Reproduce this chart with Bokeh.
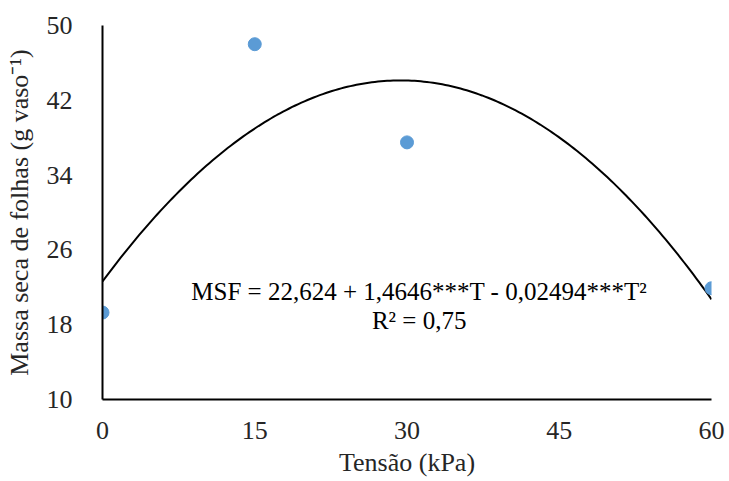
import numpy as np
from bokeh.plotting import figure
from bokeh.models import Range1d, FixedTicker, Label
from bokeh.embed import file_html
from bokeh.resources import INLINE

# Data
tensao = [0, 15, 30, 60]
msf = [19.3, 48.0, 37.5, 21.9]
coef = [22.624, 1.4646, -0.02494]  # regression: MSF = b0 + b1*T + b2*T^2
x_ticks = [0, 15, 30, 45, 60]
y_ticks = [10, 18, 26, 34, 42, 50]

FONT = "Liberation Serif"

p = figure(width=725, height=481, output_backend="svg", toolbar_location=None,
           x_range=Range1d(0, 60), y_range=Range1d(10, 50),
           min_border_left=102, min_border_right=14, min_border_top=25, min_border_bottom=82)
p.outline_line_color = None
p.grid.grid_line_color = None
p.background_fill_color = "white"
p.border_fill_color = "white"

for ax in (p.xaxis[0], p.yaxis[0]):
    ax.major_tick_line_color = None
    ax.minor_tick_line_color = None
    ax.axis_line_color = "black"
    ax.axis_line_width = 2
    ax.major_label_text_font = FONT
    ax.major_label_text_font_size = "26px"
    ax.major_label_text_color = "#262626"
    ax.axis_label_text_font = FONT
    ax.axis_label_text_font_size = "26px"
    ax.axis_label_text_font_style = "normal"
    ax.axis_label_text_color = "#262626"

p.xaxis.ticker = FixedTicker(ticks=x_ticks)
p.yaxis.ticker = FixedTicker(ticks=y_ticks)
p.xaxis.major_label_standoff = 16
p.yaxis.major_label_standoff = 24
p.xaxis.axis_label = "Tensão (kPa)"
p.yaxis.axis_label = "Massa seca de folhas (g vaso⁻¹)"
p.xaxis.axis_label_standoff = 6
p.yaxis.axis_label_standoff = 10

t = np.linspace(0, 60, 200)
curve = coef[0] + coef[1] * t + coef[2] * t ** 2
p.line(t, curve, line_color="black", line_width=2)

p.scatter(tensao, msf, size=13, fill_color="#5B9BD5", line_color="#5B9BD5")

p.add_layout(Label(x=31.2, y=21.6, text="MSF = 22,624 + 1,4646***T - 0,02494***T²",
                   text_font=FONT, text_font_size="25px", text_align="center",
                   text_baseline="middle", text_color="black"))
p.add_layout(Label(x=31.2, y=18.5, text="R² = 0,75",
                   text_font=FONT, text_font_size="25px", text_align="center",
                   text_baseline="middle", text_color="black"))

open("out.html", "w").write(file_html(p, INLINE))
